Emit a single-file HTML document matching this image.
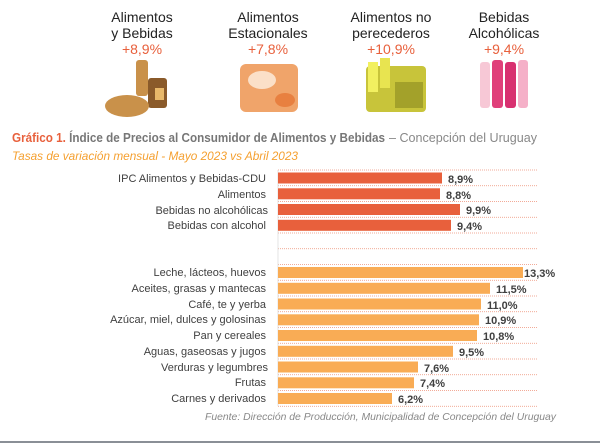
<!DOCTYPE html>
<html><head><meta charset="utf-8"><style>
body{margin:0;background:#fff;}
svg{display:block;font-family:"Liberation Sans",sans-serif;}
</style></head><body>
<svg width="600" height="443" viewBox="0 0 600 443" xmlns="http://www.w3.org/2000/svg">
<g font-size="14" fill="#222" text-anchor="middle">
<text x="142" y="22">Alimentos</text><text x="142" y="38">y Bebidas</text>
<text x="268" y="22">Alimentos</text><text x="268" y="38">Estacionales</text>
<text x="391" y="22">Alimentos no</text><text x="391" y="38">perecederos</text>
<text x="504" y="22">Bebidas</text><text x="504" y="38">Alcohólicas</text>
</g>
<g font-size="14" fill="#E8603C" text-anchor="middle">
<text x="142" y="54">+8,9%</text><text x="268" y="54">+7,8%</text><text x="391" y="54">+10,9%</text><text x="504" y="54">+9,4%</text>
</g>
<rect x="136" y="60" width="12" height="36" rx="3" fill="#C9914A"/>
<rect x="148" y="78" width="19" height="30" rx="3" fill="#8A5A2A"/>
<rect x="155" y="88" width="9" height="12" fill="#E8B86A"/>
<ellipse cx="127" cy="106" rx="22" ry="11" fill="#C9914A"/>
<rect x="240" y="64" width="58" height="48" rx="6" fill="#F0A46A"/>
<ellipse cx="262" cy="80" rx="14" ry="9" fill="#FBE0C8"/>
<ellipse cx="285" cy="100" rx="10" ry="7" fill="#E88040"/>
<rect x="366" y="66" width="60" height="46" rx="4" fill="#C8C43A"/>
<rect x="368" y="62" width="10" height="30" fill="#F2F060"/>
<rect x="380" y="58" width="10" height="30" fill="#E8E450"/>
<rect x="395" y="82" width="28" height="26" fill="#8A8A20" opacity="0.6"/>
<rect x="480" y="62" width="10" height="46" rx="3" fill="#F7C8D6"/>
<rect x="492" y="60" width="11" height="48" rx="3" fill="#E0407A"/>
<rect x="505" y="62" width="11" height="46" rx="3" fill="#D83070"/>
<rect x="518" y="60" width="10" height="48" rx="3" fill="#F5B0C8"/>
<text x="12" y="142" font-size="12.5" font-weight="bold" fill="#777" textLength="373" lengthAdjust="spacingAndGlyphs"><tspan fill="#E8603C">Gráfico 1.</tspan> Índice de Precios al Consumidor de Alimentos y Bebidas</text>
<text x="389" y="142" font-size="12.5" fill="#888" textLength="148" lengthAdjust="spacingAndGlyphs">– Concepción del Uruguay</text>
<text x="12" y="160" font-size="12" font-style="italic" fill="#F5A030" textLength="286" lengthAdjust="spacingAndGlyphs">Tasas de variación mensual - Mayo 2023 vs Abril 2023</text>
<g stroke="#E8603C" stroke-width="0.8" stroke-dasharray="1,1" opacity="0.7">
<line x1="278" x2="537" y1="170" y2="170"/><line x1="278" x2="537" y1="185.75" y2="185.75"/><line x1="278" x2="537" y1="201.5" y2="201.5"/><line x1="278" x2="537" y1="217.25" y2="217.25"/><line x1="278" x2="537" y1="233" y2="233"/><line x1="278" x2="537" y1="248.75" y2="248.75"/><line x1="278" x2="537" y1="264.5" y2="264.5"/><line x1="278" x2="537" y1="280.25" y2="280.25"/><line x1="278" x2="537" y1="296" y2="296"/><line x1="278" x2="537" y1="311.75" y2="311.75"/><line x1="278" x2="537" y1="327.5" y2="327.5"/><line x1="278" x2="537" y1="343.25" y2="343.25"/><line x1="278" x2="537" y1="359" y2="359"/><line x1="278" x2="537" y1="374.75" y2="374.75"/><line x1="278" x2="537" y1="390.5" y2="390.5"/><line x1="278" x2="537" y1="406.25" y2="406.25"/>
</g>
<line x1="278" y1="170" x2="278" y2="406" stroke="#ddd" stroke-width="0.8"/>
<g fill="#E8603C">
<rect x="278" y="172.5" width="164" height="11"/><rect x="278" y="188.3" width="162" height="11"/><rect x="278" y="204" width="182" height="11"/><rect x="278" y="219.8" width="173" height="11"/>
</g>
<g fill="#F9AC55">
<rect x="278" y="267" width="245" height="11"/><rect x="278" y="282.8" width="212" height="11"/><rect x="278" y="298.5" width="203" height="11"/><rect x="278" y="314.3" width="201" height="11"/><rect x="278" y="330" width="199" height="11"/><rect x="278" y="345.8" width="175" height="11"/><rect x="278" y="361.5" width="140" height="11"/><rect x="278" y="377.3" width="136" height="11"/><rect x="278" y="393" width="114" height="11"/>
</g>
<g font-size="11" fill="#404040" text-anchor="end">
<text x="266" y="182">IPC Alimentos y Bebidas-CDU</text><text x="266" y="198">Alimentos</text><text x="268" y="214">Bebidas no alcohólicas</text><text x="266" y="229">Bebidas con alcohol</text>
<text x="266" y="276">Leche, lácteos, huevos</text><text x="266" y="292">Aceites, grasas y mantecas</text><text x="266" y="308">Café, te y yerba</text><text x="266" y="323">Azúcar, miel, dulces y golosinas</text><text x="266" y="339">Pan y cereales</text><text x="266" y="355">Aguas, gaseosas y jugos</text><text x="268" y="371">Verduras y legumbres</text><text x="266" y="386">Frutas</text><text x="266" y="402">Carnes y derivados</text>
</g>
<g font-size="11" font-weight="bold" fill="#404040">
<text x="448" y="183">8,9%</text><text x="446" y="199">8,8%</text><text x="466" y="214">9,9%</text><text x="457" y="230">9,4%</text>
<text x="524" y="277">13,3%</text><text x="496" y="293">11,5%</text><text x="487" y="309">11,0%</text><text x="485" y="324">10,9%</text><text x="483" y="340">10,8%</text><text x="459" y="356">9,5%</text><text x="424" y="372">7,6%</text><text x="420" y="387">7,4%</text><text x="398" y="403">6,2%</text>
</g>
<text x="556" y="420" font-size="10.5" font-style="italic" fill="#888" text-anchor="end" textLength="351" lengthAdjust="spacingAndGlyphs">Fuente: Dirección de Producción, Municipalidad de Concepción del Uruguay</text>
<rect x="0" y="441" width="600" height="2" fill="#8a8f96"/>
</svg>
</body></html>
